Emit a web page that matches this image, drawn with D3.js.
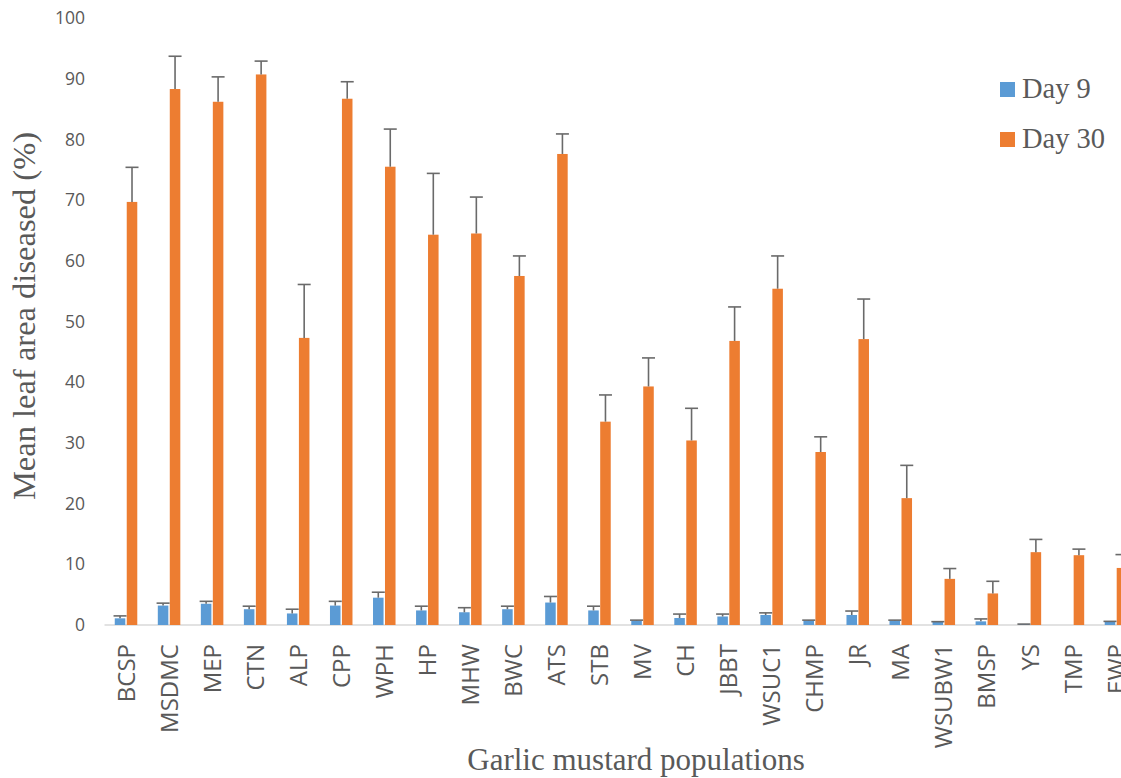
<!DOCTYPE html>
<html>
<head>
<meta charset="utf-8">
<script src="https://cdn.jsdelivr.net/npm/d3@7"></script>
<style>
  html, body { margin: 0; padding: 0; background: #fff; }
  svg { display: block; }
</style>
</head>
<body>
<svg id="chart" width="1121" height="778"></svg>
<script>
const categories = ["BCSP","MSDMC","MEP","CTN","ALP","CPP","WPH","HP","MHW","BWC","ATS","STB","MV","CH","JBBT","WSUC1","CHMP","JR","MA","WSUBW1","BMSP","YS","TMP","EWP"];
const day9     = [1.1,3.2,3.5,2.6,1.9,3.2,4.5,2.4,2.1,2.6,3.7,2.4,0.7,1.15,1.4,1.65,0.7,1.65,0.7,0.5,0.6,0.15,0,0.5];
const day9Err  = [0.4,0.4,0.4,0.5,0.7,0.7,0.9,0.7,0.75,0.5,1.0,0.7,0.1,0.65,0.4,0.35,0.1,0.65,0.1,0.05,0.4,0,0,0.1];
const day30    = [69.7,88.3,86.2,90.7,47.3,86.7,75.5,64.3,64.5,57.5,77.6,33.5,39.3,30.4,46.8,55.4,28.5,47.1,20.9,7.6,5.2,12.0,11.5,9.4];
const day30Err = [5.7,5.4,4.1,2.2,8.8,2.8,6.2,10.1,6.0,3.3,3.3,4.4,4.7,5.3,5.6,5.4,2.5,6.6,5.4,1.7,2.0,2.1,1.0,2.2];
const seriesNames = ["Day 9","Day 30"];
const yTicks = [0,10,20,30,40,50,60,70,80,90,100];

const colors = {"Day 9": "#5B9BD5", "Day 30": "#ED7D31"};
const textGray = "#595959";

const svg = d3.select("#chart");
svg.append("rect").attr("width",1121).attr("height",778).attr("fill","#fff");

const x0 = d3.scaleBand().domain(categories).range([104.5, 1137.5]).paddingInner(0.477).paddingOuter(0.2385);
const x1 = d3.scaleBand().domain(seriesNames).range([0, x0.bandwidth()]).paddingInner(0.12);
const y = d3.scaleLinear().domain([0, 100]).range([625, 18]);

const rows = categories.map((c, i) => ({
  cat: c,
  vals: [
    {s: "Day 9", v: day9[i], e: day9Err[i]},
    {s: "Day 30", v: day30[i], e: day30Err[i]}
  ]
}));

// Y axis tick labels (no axis line)
const yAxis = d3.axisLeft(y).tickValues(yTicks).tickSize(0).tickPadding(0);
const yg = svg.append("g").attr("transform", "translate(85,0)").call(yAxis);
yg.select(".domain").remove();
yg.selectAll("text").attr("font-family", "'Open Sans', sans-serif").attr("font-size", 17.5).attr("fill", textGray);

// Baseline
svg.append("line").attr("x1", 104.5).attr("x2", 1121).attr("y1", y(0)).attr("y2", y(0))
  .attr("stroke", "#D9D9D9").attr("stroke-width", 1.6);

// Bars
const groups = svg.append("g").selectAll("g").data(rows).join("g")
  .attr("transform", d => `translate(${x0(d.cat)},0)`);

groups.selectAll("rect").data(d => d.vals).join("rect")
  .attr("x", d => x1(d.s))
  .attr("width", x1.bandwidth())
  .attr("y", d => y(d.v))
  .attr("height", d => y(0) - y(d.v))
  .attr("fill", d => colors[d.s]);

// Error bars (positive)
const eb = groups.selectAll("g.err").data(d => d.vals.filter(v => v.v > 0)).join("g").attr("class", "err");
eb.append("line")
  .attr("x1", d => x1(d.s) + x1.bandwidth()/2)
  .attr("x2", d => x1(d.s) + x1.bandwidth()/2)
  .attr("y1", d => y(d.v))
  .attr("y2", d => y(d.v + d.e))
  .attr("stroke", "#6a6a6a").attr("stroke-width", 1.6);
eb.append("line")
  .attr("x1", d => x1(d.s) + x1.bandwidth()/2 - 6.5)
  .attr("x2", d => x1(d.s) + x1.bandwidth()/2 + 6.5)
  .attr("y1", d => y(d.v + d.e))
  .attr("y2", d => y(d.v + d.e))
  .attr("stroke", "#6a6a6a").attr("stroke-width", 1.6);

// X axis labels (rotated)
const xAxis = d3.axisBottom(x0).tickSize(0).tickPadding(0);
const xg = svg.append("g").attr("transform", `translate(0,${y(0)})`).call(xAxis);
xg.select(".domain").remove();
xg.selectAll("text")
  .attr("font-family", "'Open Sans', sans-serif")
  .attr("font-size", 24)
  .attr("fill", textGray)
  .attr("text-anchor", "end")
  .attr("dy", "0.36em")
  .attr("transform", "translate(0,19) rotate(-90)");

// Axis titles
svg.append("text")
  .attr("x", 636).attr("y", 770)
  .attr("text-anchor", "middle")
  .attr("font-family", "'Liberation Serif', 'Times New Roman', serif")
  .attr("font-size", 31).attr("fill", textGray)
  .text("Garlic mustard populations");

svg.append("text")
  .attr("transform", "translate(35,316) rotate(-90)")
  .attr("text-anchor", "middle")
  .attr("font-family", "'Liberation Serif', 'Times New Roman', serif")
  .attr("font-size", 32.5).attr("fill", textGray)
  .text("Mean leaf area diseased (%)");

// Legend
const legend = svg.append("g");
seriesNames.forEach((s, i) => {
  const gy = 82 + i * 50;
  legend.append("rect").attr("x", 1000).attr("y", gy).attr("width", 15).attr("height", 15).attr("fill", colors[s]);
  legend.append("text").attr("x", 1022).attr("y", gy + 16)
    .attr("font-family", "'Liberation Serif', 'Times New Roman', serif")
    .attr("font-size", 28.5).attr("fill", textGray).text(s);
});
</script>
</body>
</html>
